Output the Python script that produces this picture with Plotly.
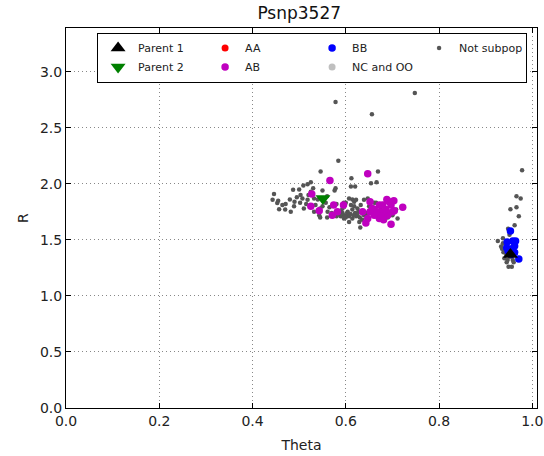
import plotly.graph_objects as go

# ---- data ----
nsp_theta = [0.578, 0.656, 0.748, 0.584, 0.546, 0.612, 0.669, 0.654, 0.666, 0.509, 0.518, 0.525,
             0.487, 0.446, 0.443, 0.453, 0.457, 0.464, 0.471, 0.482, 0.489, 0.503, 0.507, 0.502,
             0.510, 0.518, 0.525, 0.532, 0.535, 0.532, 0.543, 0.550, 0.557, 0.561, 0.578, 0.576,
             0.611, 0.620, 0.582, 0.589, 0.596, 0.604, 0.607, 0.614, 0.622, 0.611, 0.618, 0.625,
             0.607, 0.614, 0.632, 0.639, 0.647, 0.632, 0.639, 0.631, 0.711, 0.661, 0.593, 0.600,
             0.571, 0.596, 0.618, 0.593, 0.604, 0.614, 0.622, 0.629, 0.647, 0.657, 0.665, 0.708,
             0.596, 0.607, 0.490, 0.495, 0.515, 0.520, 0.540, 0.545, 0.565, 0.570, 0.585, 0.590,
             0.600, 0.610, 0.620, 0.625, 0.630, 0.635, 0.645, 0.650, 0.660, 0.670, 0.675, 0.680,
             0.690, 0.700, 0.598, 0.603, 0.617, 0.627, 0.580, 0.480, 0.470, 0.455, 0.500, 0.530,
             0.560, 0.550, 0.580, 0.560, 0.545,
             0.978, 0.966, 0.975, 0.953, 0.966, 0.971, 0.962, 0.948, 0.926, 0.937, 0.933, 0.940,
             0.944, 0.940, 0.949, 0.956, 0.947, 0.958, 0.937, 0.951, 0.942, 0.945, 0.952, 0.938,
             0.960, 0.935]
nsp_r = [2.73, 2.62, 2.81, 2.205, 2.11, 2.05, 2.11, 2.006, 2.015, 1.985, 1.997, 2.015,
         1.946, 1.908, 1.857, 1.828, 1.774, 1.81, 1.82, 1.75, 1.80, 1.90, 1.87, 1.83,
         1.78, 1.857, 1.93, 1.87, 1.81, 1.75, 1.72, 1.80, 1.83, 1.75, 1.96, 1.94,
         1.976, 1.976, 1.75, 1.71, 1.72, 1.75, 1.87, 1.86, 1.857, 1.81, 1.80, 1.78,
         1.71, 1.69, 1.75, 1.857, 1.87, 1.81, 1.72, 1.61, 1.69, 1.83, 1.78, 1.83,
         1.72, 1.83, 1.84, 1.74, 1.72, 1.77, 1.71, 1.66, 1.69, 1.77, 1.83, 1.77,
         1.69, 1.66, 1.84, 1.88, 1.82, 1.90, 1.86, 1.78, 1.79, 1.74, 1.73, 1.76,
         1.70, 1.73, 1.74, 1.72, 1.70, 1.68, 1.74, 1.80, 1.73, 1.76, 1.79, 1.82,
         1.70, 1.72, 1.71, 1.74, 1.72, 1.75, 1.71, 1.86, 1.77, 1.85, 1.95, 1.96,
         1.89, 1.94, 1.82, 1.70, 1.70,
         2.12, 1.89, 1.87, 1.774, 1.79, 1.71, 1.63, 1.60, 1.49, 1.515, 1.44, 1.41,
         1.366, 1.336, 1.26, 1.26, 1.32, 1.32, 1.47, 1.545, 1.46, 1.30, 1.35, 1.39,
         1.30, 1.42]

ab_theta = [0.566, 0.647, 0.527, 0.525, 0.543, 0.574, 0.571, 0.582, 0.595, 0.652, 0.636, 0.647,
            0.643, 0.661, 0.668, 0.675, 0.679, 0.688, 0.703, 0.697, 0.700, 0.722, 0.697, 0.682,
            0.690, 0.672, 0.661, 0.657, 0.686, 0.675, 0.704, 0.665, 0.693, 0.672, 0.652, 0.681]
ab_r = [2.03, 2.09, 1.91, 1.80, 1.76, 1.81, 1.72, 1.75, 1.81, 1.84, 1.75, 1.69,
        1.65, 1.77, 1.72, 1.75, 1.81, 1.86, 1.85, 1.81, 1.75, 1.79, 1.64, 1.71,
        1.72, 1.69, 1.72, 1.78, 1.77, 1.71, 1.76, 1.75, 1.84, 1.81, 1.75, 1.68]

bb_theta = [0.953, 0.958, 0.964, 0.946, 0.962, 0.948, 0.962, 0.958, 0.971, 0.945, 0.955]
bb_r = [1.58, 1.49, 1.49, 1.48, 1.446, 1.40, 1.387, 1.426, 1.33, 1.43, 1.37]

aa_theta = []
aa_r = []
ncoo_theta = []
ncoo_r = []

p1_theta = [0.953]
p1_r = [1.37]
p2_theta = [0.551]
p2_r = [1.87]

FONT = "DejaVu Sans"

fig = go.Figure()

def opt(v):
    return v if len(v) else [None]

fig.add_trace(go.Scatter(x=nsp_theta, y=nsp_r, mode="markers", name="Not subpop",
                         marker=dict(color="#555555", size=4.5), legendrank=4))
fig.add_trace(go.Scatter(x=opt(ncoo_theta), y=opt(ncoo_r), mode="markers", name="NC and OO",
                         marker=dict(color="#bfbfbf", size=7), legendrank=7))
fig.add_trace(go.Scatter(x=opt(aa_theta), y=opt(aa_r), mode="markers", name="AA",
                         marker=dict(color="#ff0000", size=7), legendrank=2))
fig.add_trace(go.Scatter(x=ab_theta, y=ab_r, mode="markers", name="AB",
                         marker=dict(color="#bf00bf", size=7.5), legendrank=6))
fig.add_trace(go.Scatter(x=bb_theta, y=bb_r, mode="markers", name="BB",
                         marker=dict(color="#0000ff", size=7.5), legendrank=3))
fig.add_trace(go.Scatter(x=p1_theta, y=p1_r, mode="markers", name="Parent 1",
                         marker=dict(color="black", size=13, symbol="triangle-up"), legendrank=1))
fig.add_trace(go.Scatter(x=p2_theta, y=p2_r, mode="markers", name="Parent 2",
                         marker=dict(color="#008000", size=13, symbol="triangle-down"), legendrank=5))

axis_common = dict(showline=True, linecolor="black", linewidth=1, mirror="allticks",
                   ticks="inside", ticklen=5, tickcolor="black",
                   showgrid=True, gridcolor="#888888", griddash="1px,3px", gridwidth=1,
                   zeroline=False, tickfont=dict(size=14, color="#222"),
                   tickformat=".1f", automargin=False)

fig.update_xaxes(range=[0, 1.01], dtick=0.2, tick0=0,
                 title=dict(text="Theta", font=dict(size=14, color="#222"), standoff=12),
                 **axis_common)
fig.update_yaxes(range=[0, 3.39], dtick=0.5, tick0=0,
                 title=dict(text="R", font=dict(size=14, color="#222"), standoff=8),
                 **axis_common)

fig.update_layout(
    width=544, height=456,
    margin=dict(l=66, r=7, t=28, b=48),
    paper_bgcolor="white", plot_bgcolor="white",
    font=dict(family=FONT, color="#222"),
    title=dict(text="Psnp3527", x=0.55, xanchor="center", y=0.985, yanchor="top",
               font=dict(size=17, color="#111")),
    showlegend=True,
    legend=dict(orientation="h", x=0.066, xanchor="left", y=0.988, yanchor="top",
                bgcolor="white", bordercolor="black", borderwidth=1,
                font=dict(size=11, color="#222"), entrywidth=62, entrywidthmode="pixels",
                tracegroupgap=0, itemclick=False),
)

fig.write_html("out.html")
